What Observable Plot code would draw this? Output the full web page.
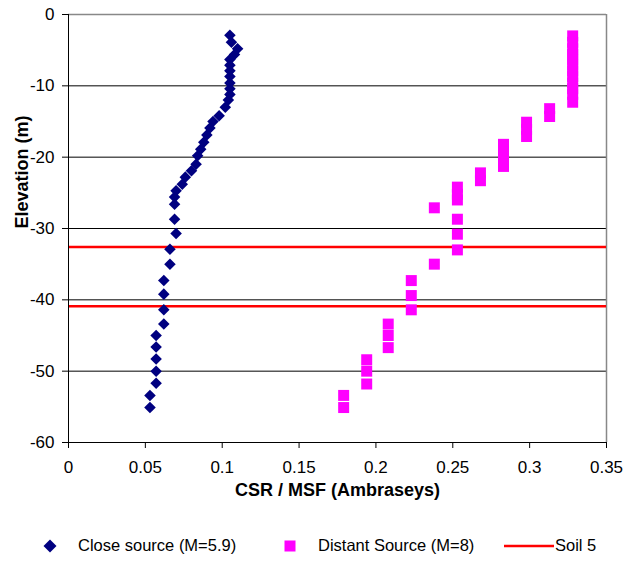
<!DOCTYPE html>
<html>
<head>
<meta charset="utf-8">
<script src="https://cdn.jsdelivr.net/npm/d3@7"></script>
<script src="https://cdn.jsdelivr.net/npm/@observablehq/plot@0.6"></script>
<style>
  html, body { margin: 0; padding: 0; background: #fff; }
  #wrap { position: relative; width: 627px; height: 561px; font-family: "Liberation Sans", Arial, sans-serif; }
  #legend { position: absolute; left: 0; top: 525px; width: 627px; height: 36px; font-size: 16.5px; color: #000; }
  .li { position: absolute; top: 10px; line-height: 20px; white-space: nowrap; }
  .sym { position: absolute; }
</style>
</head>
<body>
<div id="wrap">
  <div id="chart"></div>
  <div id="legend"></div>
</div>
<script>
// Close source (M=5.9)
const closeElev = [-2.9, -3.9, -4.8, -5.6, -6.3, -7.1, -7.9, -8.7, -9.6, -10.4, -11.2, -12.0, -13.0, -14.2, -15.0, -15.9, -16.9, -17.9, -18.9, -19.8, -21.0, -21.9, -22.8, -23.8, -24.7, -25.6, -26.6, -28.7, -30.7, -32.9, -35.0, -37.3, -39.2, -41.4, -43.4, -45.0, -46.6, -48.3, -50.0, -51.7, -53.4, -55.1];
const closeCSR  = [0.105, 0.106, 0.110, 0.108, 0.105, 0.105, 0.105, 0.105, 0.105, 0.105, 0.105, 0.104, 0.102, 0.098, 0.094, 0.092, 0.090, 0.088, 0.086, 0.084, 0.083, 0.080, 0.076, 0.074, 0.070, 0.069, 0.069, 0.069, 0.070, 0.066, 0.066, 0.062, 0.062, 0.062, 0.062, 0.057, 0.057, 0.057, 0.057, 0.057, 0.053, 0.053];

// Distant Source (M=8)
const distElev = [-3.0, -3.9, -4.8, -5.6, -6.3, -7.1, -7.9, -8.7, -9.6, -10.4, -11.2, -12.3, -13.2, -14.3, -15.1, -16.1, -17.1, -18.2, -19.2, -20.2, -21.3, -22.2, -23.3, -24.2, -25.2, -26.0, -27.1, -28.7, -30.8, -33.0, -35.0, -37.3, -39.4, -41.4, -43.4, -45.0, -46.7, -48.4, -50.0, -51.8, -53.4, -55.1];
const distCSR  = [0.328, 0.328, 0.328, 0.328, 0.328, 0.328, 0.328, 0.328, 0.328, 0.328, 0.328, 0.328, 0.313, 0.313, 0.298, 0.298, 0.298, 0.283, 0.283, 0.283, 0.283, 0.268, 0.268, 0.253, 0.253, 0.253, 0.238, 0.253, 0.253, 0.253, 0.238, 0.223, 0.223, 0.223, 0.208, 0.208, 0.208, 0.194, 0.194, 0.194, 0.179, 0.179];

// Soil 5 boundaries
const soilElev = [-32.6, -40.9];

// Axes
const xTicks = [0, 0.05, 0.1, 0.15, 0.2, 0.25, 0.3, 0.35];
const yTicks = [0, -10, -20, -30, -40, -50, -60];
const gridY = [-10, -20, -30, -40, -50];
const xTitle = "CSR / MSF (Ambraseys)";
const yTitle = "Elevation (m)";
const seriesNames = ["Close source (M=5.9)", "Distant Source (M=8)", "Soil 5"];

const closeData = closeElev.map((e, i) => ({elev: e, csr: closeCSR[i]}));
const distData = distElev.map((e, i) => ({elev: e, csr: distCSR[i]}));

const font = '"Liberation Sans", Arial, sans-serif';

const chart = Plot.plot({
  width: 627,
  height: 525,
  marginLeft: 68,
  marginRight: 21,
  marginTop: 14,
  marginBottom: 83,
  style: {fontFamily: font, fontSize: "17px", background: "#fff", color: "#000", overflow: "visible"},
  x: {domain: [0, 0.35]},
  y: {domain: [-60, 0]},
  marks: [
    Plot.ruleY(gridY, {stroke: "#000", strokeWidth: 1}),
    Plot.ruleY([0], {stroke: "#888", strokeWidth: 1.5}),
    Plot.ruleX([0.35], {stroke: "#888", strokeWidth: 1.5}),
    Plot.ruleY(soilElev, {stroke: "#ff0000", strokeWidth: 2.5}),
    Plot.ruleX([0], {stroke: "#000", strokeWidth: 1}),
    Plot.ruleY([-60], {stroke: "#000", strokeWidth: 1}),
    Plot.axisX({ticks: xTicks, tickSize: 6, tickPadding: 12, tickFormat: d => String(d), label: null, stroke: "#000", fontSize: 17}),
    Plot.axisY({ticks: yTicks, tickSize: 6, tickPadding: 8, tickFormat: d => String(d), label: null, stroke: "#000", fontSize: 17}),
    Plot.dot(distData, {x: "csr", y: "elev", symbol: "square", r: 6.2, fill: "#ff00ff", stroke: "none"}),
    Plot.dot(closeData, {x: "csr", y: "elev", symbol: "diamond2", r: 5.2, fill: "#000080", stroke: "none"}),
    Plot.text([xTitle], {text: d => d, frameAnchor: "bottom", dy: 53, fontWeight: "bold", fontSize: 18, fill: "#000"}),
    Plot.text([yTitle], {text: d => d, frameAnchor: "left", dx: -46, rotate: -90, fontWeight: "bold", fontSize: 18, fill: "#000"})
  ]
});
document.getElementById("chart").appendChild(chart);

// Legend
const legend = document.getElementById("legend");
legend.innerHTML = `
  <svg class="sym" style="left:42px;top:13px" width="16" height="16"><path d="M8,1.5L14.5,8L8,14.5L1.5,8Z" fill="#000080"/></svg>
  <div class="li" style="left:78px">${seriesNames[0]}</div>
  <svg class="sym" style="left:283px;top:14px" width="14" height="14"><rect x="1.5" y="1.5" width="11" height="11" fill="#ff00ff"/></svg>
  <div class="li" style="left:318px">${seriesNames[1]}</div>
  <svg class="sym" style="left:504px;top:19px" width="50" height="4"><line x1="0" y1="2" x2="50" y2="2" stroke="#ff0000" stroke-width="2.5"/></svg>
  <div class="li" style="left:555px">${seriesNames[2]}</div>
`;
</script>
</body>
</html>
